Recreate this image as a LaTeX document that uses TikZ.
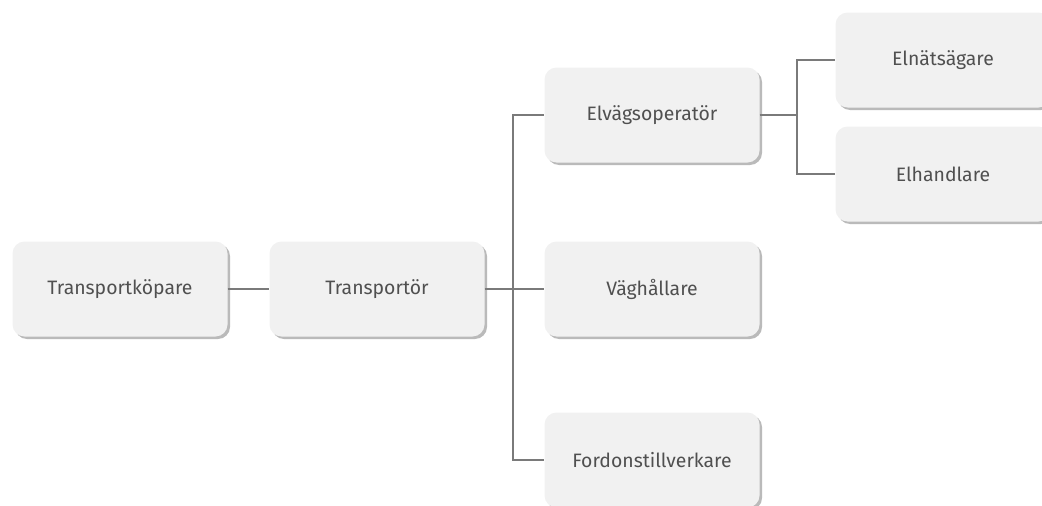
\documentclass[tikz,border=0pt]{standalone}
\usepackage{fontspec}
\setmainfont{Fira Sans}
\usetikzlibrary{shadows}
\definecolor{boxfill}{HTML}{F1F1F1}
\definecolor{boxtext}{HTML}{505050}
\definecolor{linkline}{HTML}{7A7A7A}
\tikzset{
  role/.style={rectangle, rounded corners=12pt, fill=boxfill,
    minimum width=215pt, minimum height=95pt, inner sep=0pt,
    text=boxtext, font=\fontsize{19.4}{22}\selectfont,
    drop shadow={shadow xshift=2.5pt, shadow yshift=-2.5pt, fill=black!45, opacity=0.6}},
  link/.style={draw=linkline, line width=1.3pt}
}
\begin{document}
\begin{tikzpicture}[x=1pt, y=-1pt]
  \useasboundingbox (0,0) rectangle (1042,506);
  % left chain
  \node[role] (buyer)   at (120,289) {Transportköpare};
  \node[role] (carrier) at (377,289) {Transportör};
  % second level
  \node[role] (operator) at (652,115) {Elvägsoperatör};
  \node[role] (road)     at (652,289) {Väghållare};
  \node[role] (maker)    at (652,460) {Fordonstillverkare};
  % third level
  \node[role] (grid)   at (943,60)  {Elnätsägare};
  \node[role] (trader) at (943,174) {Elhandlare};
  % branch points
  \coordinate (j1) at (513,289);
  \coordinate (j2) at (797,115);
  % connectors
  \draw[link] (buyer.east) -- (carrier.west);
  \draw[link] (carrier.east) -- (j1);
  \draw[link] (j1) |- (operator.west);
  \draw[link] (j1) -- (road.west);
  \draw[link] (j1) |- (maker.west);
  \draw[link] (operator.east) -- (j2);
  \draw[link] (j2) |- (grid.west);
  \draw[link] (j2) |- (trader.west);
\end{tikzpicture}
\end{document}
